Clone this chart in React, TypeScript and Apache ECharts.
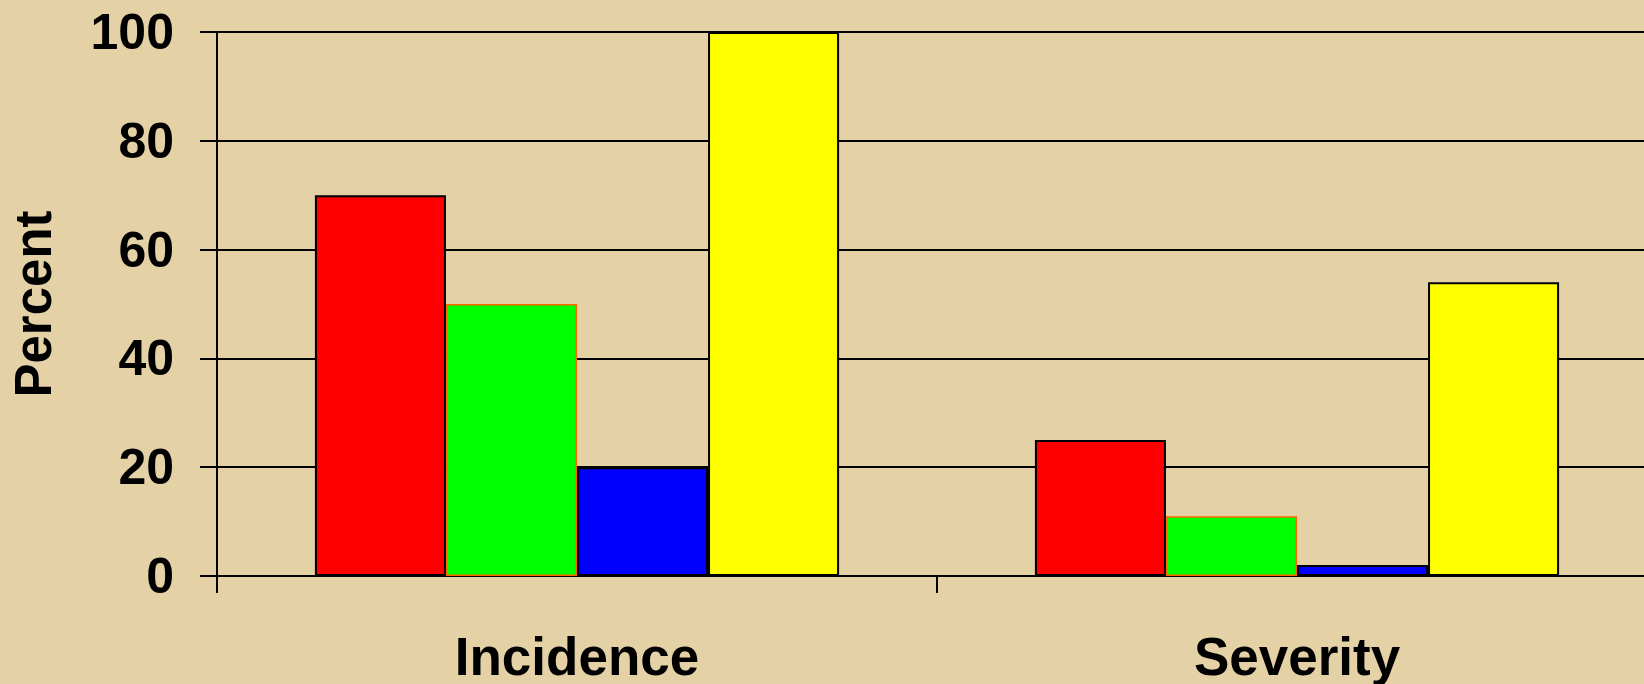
import React, { useEffect, useRef } from "react";
import * as echarts from "echarts";

const categories = ["Incidence", "Severity"];
const seriesNames = ["Red", "Green", "Blue", "Yellow"];
const redValues = [70, 25];
const greenValues = [50, 11];
const blueValues = [20, 2];
const yellowValues = [100, 54];
const yTicks = [0, 20, 40, 60, 80, 100];

const FONT = '"Liberation Sans", Arial, Helvetica, sans-serif';

export default function App() {
  const ref = useRef<HTMLDivElement>(null);

  useEffect(() => {
    if (!ref.current) return;
    const chart = echarts.init(ref.current, null, { renderer: "svg" });
    const mk = (name: string, data: number[], color: string, border: string, bw: number) => ({
      name,
      type: "bar",
      data,
      barGap: "0%",
      barCategoryGap: "27.2%",
      itemStyle: { color, borderColor: border, borderWidth: bw },
    });
    chart.setOption({
      animation: false,
      backgroundColor: "#E4D2A6",
      grid: {
        left: 217,
        top: 32,
        bottom: 108,
        width: 1440,
        containLabel: false,
        outerBoundsMode: "none",
      },
      xAxis: {
        type: "category",
        data: categories,
        boundaryGap: true,
        axisLine: { show: true, lineStyle: { color: "#000", width: 2 } },
        axisTick: { show: true, length: 17, alignWithLabel: false, lineStyle: { color: "#000", width: 2 } },
        axisLabel: {
          color: "#000",
          fontFamily: FONT,
          fontWeight: "bold",
          fontSize: 53,
          lineHeight: 40,
          margin: 60,
        },
        splitLine: { show: false },
      },
      yAxis: {
        type: "value",
        min: yTicks[0],
        max: yTicks[yTicks.length - 1],
        interval: 20,
        name: "Percent",
        nameLocation: "middle",
        nameRotate: 90,
        nameGap: 158,
        nameTextStyle: { color: "#000", fontFamily: FONT, fontWeight: "bold", fontSize: 51 },
        axisLine: { show: true, lineStyle: { color: "#000", width: 2 } },
        axisTick: { show: true, length: 17, lineStyle: { color: "#000", width: 2 } },
        axisLabel: {
          color: "#000",
          fontFamily: FONT,
          fontWeight: "bold",
          fontSize: 50,
          margin: 43,
        },
        splitLine: { show: true, lineStyle: { color: "#000", width: 2 } },
      },
      series: [
        mk(seriesNames[0], redValues, "#FF0000", "#000", 2),
        mk(seriesNames[1], greenValues, "#00FF00", "#FF6600", 1.5),
        mk(seriesNames[2], blueValues, "#0000FF", "#000", 2),
        mk(seriesNames[3], yellowValues, "#FFFF00", "#000", 2),
      ],
    });
    return () => chart.dispose();
  }, []);

  return (
    <div
      ref={ref}
      style={{ position: "absolute", left: 0, top: 0, width: 1644, height: 684 }}
    />
  );
}
